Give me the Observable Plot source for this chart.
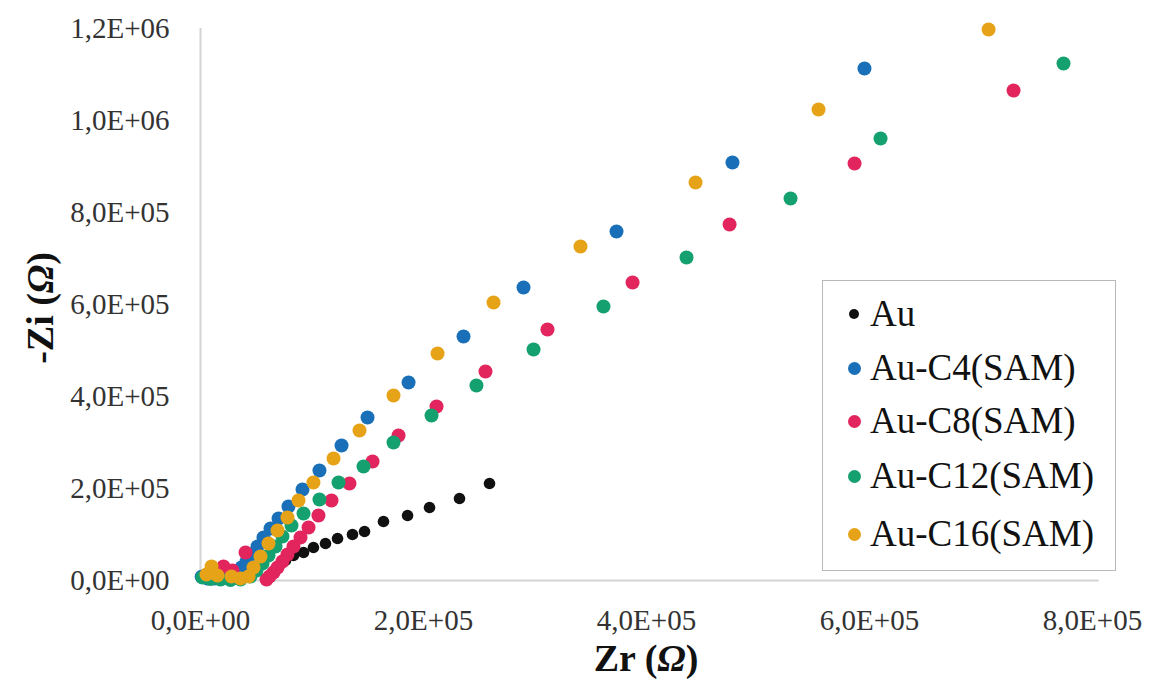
<!DOCTYPE html>
<html>
<head>
<meta charset="utf-8">
<script src="https://cdn.jsdelivr.net/npm/d3@7"></script>
<script src="https://cdn.jsdelivr.net/npm/@observablehq/plot@0.6"></script>
<style>
  html, body { margin: 0; padding: 0; background: #fff; }
  #wrap { position: relative; width: 1152px; height: 695px; font-family: "Liberation Serif", "Times New Roman", serif; }
  #legend { position: absolute; left: 822px; top: 280px; width: 294px; height: 291px; border: 1.5px solid #b8b8b8; box-sizing: border-box; background: #fff; }
  .row { position: absolute; left: 0; height: 40px; line-height: 40px; font-size: 37px; color: #111; white-space: nowrap; }
  .row .sw { position: absolute; border-radius: 50%; }
  .row .lb { position: absolute; left: 47px; top: 0; }
  .title { position: absolute; font-weight: bold; font-size: 38px; color: #111; white-space: nowrap; }
</style>
</head>
<body>
<div id="wrap">
  <div id="chart"></div>
  <div id="legend"></div>
  <div class="title" id="xtitle" style="left:646px; top:658px; transform: translate(-50%,-50%);">Zr (<i>Ω</i>)</div>
  <div class="title" id="ytitle" style="left:40px; top:308px; transform: translate(-50%,-50%) rotate(-90deg);">-Zi (<i>Ω</i>)</div>
</div>
<script>
// ---- data ----
const seriesNames = ["Au", "Au-C4(SAM)", "Au-C8(SAM)", "Au-C12(SAM)", "Au-C16(SAM)"];
const seriesColors = ["#111111", "#1a70b8", "#e2255c", "#14a06f", "#e6a318"];

const auZr = [259200, 232300, 205400, 185700, 164100, 147100, 136300, 122900, 112100, 101300, 92400, 83400, 76200, 70600, 66400, 62800, 60100];
const auZi = [210900, 178300, 158700, 141300, 128300, 106500, 100000, 91300, 80400, 71700, 60900, 54400, 43500, 32600, 21700, 10900, 4300];

const c4Zr = [595500, 477100, 373100, 289700, 235900, 186600, 149800, 126500, 106700, 91500, 78900, 70000, 62800, 56500, 51100, 45700, 41300, 36800, 32300, 26900, 19700, 12600, 6300, 1000];
const c4Zi = [1113000, 908600, 758700, 637000, 530500, 430500, 354400, 293500, 239100, 197800, 160900, 134800, 113000, 93500, 73900, 56500, 41300, 28300, 17400, 8700, 4300, 4300, 4300, 8000];

const c8Zr = [729200, 586600, 474500, 387500, 311200, 255600, 211700, 177600, 154300, 133600, 117500, 105800, 96900, 89700, 83400, 78000, 73500, 69100, 65500, 61900, 59200, 40400, 28700, 20600];
const c8Zi = [1065300, 906600, 774000, 647900, 545700, 454400, 378300, 315200, 258700, 210900, 173900, 141300, 115200, 93500, 73900, 56500, 41300, 28300, 17400, 8700, 2200, 60900, 21700, 30400];

const c12Zr = [774000, 609900, 529200, 435900, 361400, 298700, 247500, 207200, 173100, 146200, 123800, 106700, 92400, 81600, 73500, 67300, 61000, 55600, 50200, 44800, 35900, 26900, 17900, 9000, 1800];
const c12Zi = [1124000, 960900, 830500, 702200, 595700, 502200, 423900, 358700, 300000, 247800, 213100, 176100, 145700, 119600, 95700, 73900, 54400, 37000, 21700, 8700, 2000, 1000, 2000, 3000, 6500];

const c16Zr = [706800, 554300, 444000, 340800, 262800, 212600, 173100, 142600, 119300, 101300, 87900, 78000, 69100, 61000, 53800, 47500, 43100, 35900, 27800, 15200, 9900, 5400];
const c16Zi = [1197900, 1024000, 865300, 726100, 604400, 493500, 402200, 326100, 265200, 213100, 173900, 137000, 108700, 80400, 52200, 28300, 8700, 4300, 8700, 10900, 30400, 13000];

const xTicks = [0, 200000, 400000, 600000, 800000];
const yTicks = [0, 200000, 400000, 600000, 800000, 1000000, 1200000];
const dotRadius = [5.8, 7, 7, 7, 7];

// ---- build table ----
const zrArrays = [auZr, c4Zr, c8Zr, c12Zr, c16Zr];
const ziArrays = [auZi, c4Zi, c8Zi, c12Zi, c16Zi];
const seriesData = seriesNames.map((name, i) => zrArrays[i].map((zr, j) => ({series: name, zr, zi: ziArrays[i][j]})));

function sciComma(d) {
  if (d === 0) return "0,0E+00";
  const e = Math.floor(Math.log10(Math.abs(d)) + 1e-9);
  const m = d / Math.pow(10, e);
  return m.toFixed(1).replace(".", ",") + "E+" + String(e).padStart(2, "0");
}

const chart = Plot.plot({
  width: 1152,
  height: 695,
  marginLeft: 200,
  marginRight: 60,
  marginTop: 28,
  marginBottom: 115,
  style: {fontFamily: "'Liberation Serif', 'Times New Roman', serif", fontSize: "29px", color: "#333", background: "#fff"},
  x: {domain: [0, 800000]},
  y: {domain: [0, 1200000]},
  marks: [
    Plot.ruleX([0], {stroke: "#d4d4d4", strokeWidth: 2}),
    Plot.ruleY([0], {x1: 0, x2: 806000, stroke: "#d4d4d4", strokeWidth: 2}),
    Plot.axisX({ticks: xTicks, tickFormat: sciComma, tickSize: 0, tickPadding: 29, fontSize: 29, label: null}),
    Plot.axisY({ticks: yTicks, tickFormat: sciComma, tickSize: 0, tickPadding: 31, fontSize: 29, label: null}),
    ...seriesData.map((data, i) => Plot.dot(data, {x: "zr", y: "zi", r: dotRadius[i], fill: seriesColors[i], stroke: "none"}))
  ]
});
document.getElementById("chart").appendChild(chart);

// ---- legend ----
const legend = document.getElementById("legend");
const rowTops = [13, 67, 120, 175, 233];
seriesNames.forEach((name, i) => {
  const row = document.createElement("div");
  row.className = "row";
  row.style.top = (rowTops[i]) + "px";
  const sw = document.createElement("span");
  sw.className = "sw";
  const r = i === 0 ? 5 : 6.5;
  sw.style.width = (2 * r) + "px";
  sw.style.height = (2 * r) + "px";
  sw.style.left = (31 - r) + "px";
  sw.style.top = (20 - r) + "px";
  sw.style.background = seriesColors[i];
  const lb = document.createElement("span");
  lb.className = "lb";
  lb.textContent = name;
  row.appendChild(sw);
  row.appendChild(lb);
  legend.appendChild(row);
});
</script>
</body>
</html>
